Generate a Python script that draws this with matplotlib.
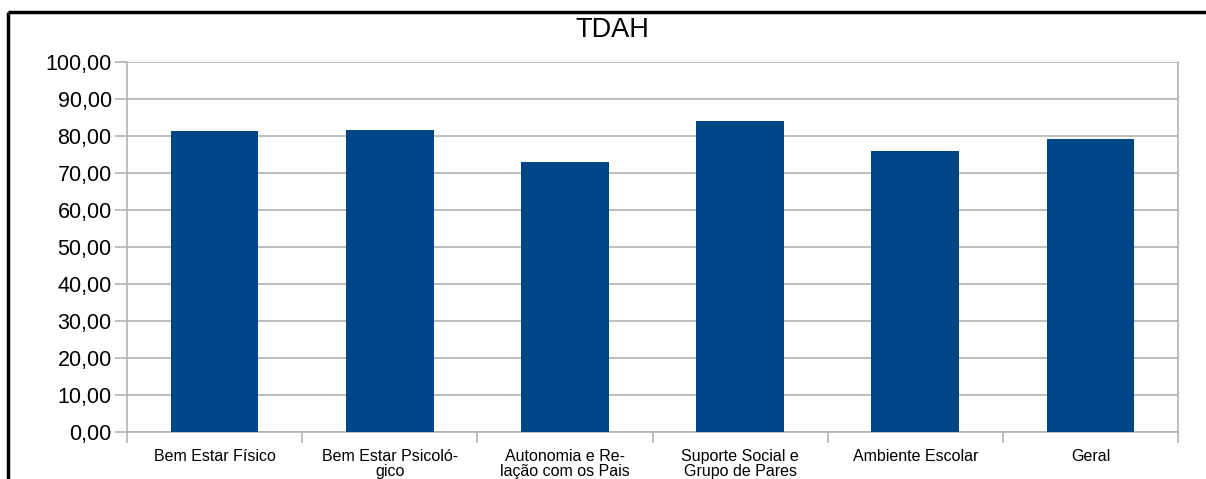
import matplotlib.pyplot as plt
import numpy as np
from matplotlib.lines import Line2D
from matplotlib.ticker import FuncFormatter

plt.rcParams['font.family'] = ['Liberation Sans', 'DejaVu Sans']

categorias = ["Bem Estar Físico", "Bem Estar Psicoló-\ngico", "Autonomia e Re-\nlação com os Pais",
              "Suporte Social e\nGrupo de Pares", "Ambiente Escolar", "Geral"]
valores = [81.3, 81.5, 72.9, 84.1, 75.9, 79.1]

cor_barra = '#004586'
cor_grade = '#b3b3b3'

fig = plt.figure(figsize=(12.06, 4.79), dpi=100)
ax = fig.add_axes([127 / 1206, 1 - 432 / 479, (1178 - 127) / 1206, (432 - 62) / 479])

x = np.arange(len(categorias))
ax.bar(x, valores, width=0.5, color=cor_barra, zorder=3)

ax.set_xlim(-0.5, len(categorias) - 0.5)
ax.set_ylim(0, 100)
ax.set_yticks(np.arange(0, 101, 10))
ax.yaxis.set_major_formatter(FuncFormatter(lambda v, p: f"{v:.2f}".replace('.', ',')))
ax.grid(axis='y', color=cor_grade, linewidth=1.2, zorder=0)

# rótulos no centro, marcas de divisão entre as categorias
ax.set_xticks(x)
ax.set_xticklabels(categorias, fontsize=11.5, linespacing=1.05)
ax.set_xticks(np.arange(-0.5, len(categorias)), minor=True)
ax.tick_params(axis='x', which='major', length=0, pad=12)
ax.tick_params(axis='x', which='minor', length=8, color=cor_grade, width=1.2)
ax.tick_params(axis='y', length=9, color=cor_grade, width=1.2, labelsize=15.5, pad=2)

for lado in ['left', 'bottom', 'right']:
    ax.spines[lado].set_color(cor_grade)
    ax.spines[lado].set_linewidth(1.2)
ax.spines['top'].set_visible(False)

fig.text(612 / 1206, 1 - 30 / 479, "TDAH", fontsize=19.5, ha='center', va='center')

# moldura preta: só topo e esquerda
topo = 1 - 11.5 / 479
esq = 7.5 / 1206
fig.add_artist(Line2D([esq, 1.0], [topo, topo], color='black', linewidth=2.5,
                      solid_capstyle='butt', transform=fig.transFigure))
fig.add_artist(Line2D([esq, esq], [0.0, topo], color='black', linewidth=2.5,
                      solid_capstyle='butt', transform=fig.transFigure))

fig.savefig('out.png', dpi=100)
